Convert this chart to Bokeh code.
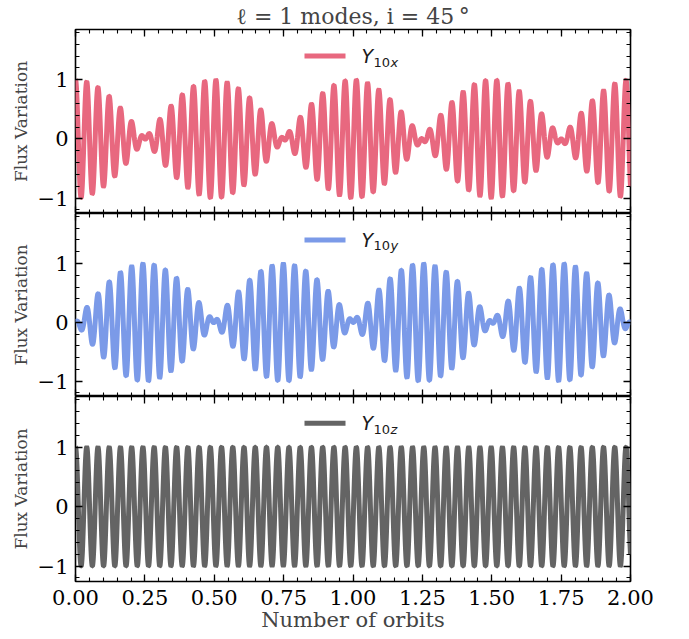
import numpy as np
from bokeh.plotting import figure
from bokeh.layouts import column
from bokeh.models import (LinearAxis, Range1d, BoxAnnotation, Label,
                          SingleIntervalTicker, CustomLabelingPolicy)
from bokeh.embed import file_html
from bokeh.resources import INLINE

# ---------------- data ----------------
ORBIT_RANGE = [0.0, 2.0]            # x extent, number of orbits
N_SAMPLES = 4001
PULSE_CYCLES_PER_ORBIT = 24.7       # fast pulsation cycles per orbit (counted)
ORBIT_CYCLES = 1.0                  # envelope: one orbital cycle per orbit
MODE_NAMES = ["x", "y", "z"]
MODE_COLORS = ["#E8687F", "#7B9AE8", "#646464"]
X_TICKS = [0.0, 0.25, 0.5, 0.75, 1.0, 1.25, 1.5, 1.75, 2.0]
X_TICK_LABELS = ["0.00", "0.25", "0.50", "0.75", "1.00", "1.25", "1.50", "1.75", "2.00"]
Y_TICKS = [-1, 0, 1]
Y_TICK_LABELS = ["\u22121", "0", "1"]
TITLE = "\u2113 = 1 modes, i = 45\u2009\u00b0"
X_LABEL = "Number of orbits"
Y_LABEL = "Flux Variation"
Y_RANGE = [-1.26, 1.85]

orbits = np.linspace(ORBIT_RANGE[0], ORBIT_RANGE[1], N_SAMPLES)
carrier = np.cos(2 * np.pi * PULSE_CYCLES_PER_ORBIT * orbits)
envelopes = {
    "x": np.cos(2 * np.pi * ORBIT_CYCLES * orbits),
    "y": np.sin(2 * np.pi * ORBIT_CYCLES * orbits),
    "z": np.ones_like(orbits),
}
flux = {m: envelopes[m] * carrier for m in MODE_NAMES}

# ---------------- layout ----------------
W = 689
LEFT, RIGHT = 75, 59
FRAME_H = [184, 183, 185]
TOP_BORDER, BOTTOM_BORDER = 29, 58
SERIF = "DejaVu Serif"
px_x = (ORBIT_RANGE[1] - ORBIT_RANGE[0]) / (W - LEFT - RIGHT)

HIDE_ALL = "for (let i = 0; i < indices.size; i++) { indices.unset(i) }\nreturn indices"


def style_axis(ax, labels):
    ax.major_tick_in = 7
    ax.major_tick_out = 0
    ax.minor_tick_in = 4
    ax.minor_tick_out = 0
    ax.major_tick_line_color = "black"
    ax.minor_tick_line_color = "black"
    ax.major_tick_line_width = 1.3
    ax.minor_tick_line_width = 1.1
    ax.axis_line_color = None
    if labels:
        ax.major_label_text_font = SERIF
        ax.major_label_text_font_size = "21px"
        ax.major_label_text_color = "black"
    else:
        ax.major_label_policy = CustomLabelingPolicy(code=HIDE_ALL)
        ax.major_label_text_font_size = "0px"
        ax.major_label_standoff = 0


panels = []
for i, mode in enumerate(MODE_NAMES):
    top = TOP_BORDER if i == 0 else 0
    bottom = BOTTOM_BORDER if i == 2 else 0
    p = figure(width=W, height=FRAME_H[i] + top + bottom,
               output_backend="svg", toolbar_location=None,
               x_range=Range1d(*ORBIT_RANGE), y_range=Range1d(*Y_RANGE),
               min_border_left=LEFT, min_border_right=RIGHT,
               min_border_top=top, min_border_bottom=bottom,
               x_axis_location=None, y_axis_location=None)
    p.grid.visible = False
    p.outline_line_color = "black"
    p.outline_line_width = 1.6
    p.background_fill_color = "white"
    p.border_fill_color = "white"

    # axes on all four sides, ticks pointing inwards
    xb = LinearAxis(ticker=SingleIntervalTicker(interval=0.25, num_minor_ticks=5))
    xt = LinearAxis(ticker=SingleIntervalTicker(interval=0.25, num_minor_ticks=5))
    yl = LinearAxis(ticker=SingleIntervalTicker(interval=1, num_minor_ticks=5))
    yr = LinearAxis(ticker=SingleIntervalTicker(interval=1, num_minor_ticks=5))
    style_axis(xb, labels=(i == 2))
    style_axis(xt, labels=False)
    style_axis(yl, labels=True)
    style_axis(yr, labels=False)
    xb.major_label_overrides = dict(zip(X_TICKS, X_TICK_LABELS))
    yl.major_label_overrides = dict(zip(Y_TICKS, Y_TICK_LABELS))
    yl.major_label_standoff = 7
    yl.axis_label = Y_LABEL
    yl.axis_label_text_font = SERIF
    yl.axis_label_text_font_style = "normal"
    yl.axis_label_text_font_size = "17px"
    yl.axis_label_standoff = 4
    if i == 2:
        xb.major_label_standoff = 8
        xb.axis_label = X_LABEL
        xb.axis_label_text_font = SERIF
        xb.axis_label_text_font_style = "normal"
        xb.axis_label_text_font_size = "21px"
        xb.axis_label_standoff = 0
    p.add_layout(xb, "below")
    p.add_layout(xt, "above")
    p.add_layout(yl, "left")
    p.add_layout(yr, "right")

    p.line(orbits, flux[mode], line_color=MODE_COLORS[i], line_width=5)

    # legend (upper centre)
    ly = 1.40
    half_t = 2.5 / (FRAME_H[i] / (Y_RANGE[1] - Y_RANGE[0]))
    p.add_layout(BoxAnnotation(left=229 * px_x, right=270 * px_x,
                               bottom=ly - half_t, top=ly + half_t,
                               fill_color=MODE_COLORS[i], fill_alpha=1.0,
                               line_color=None))
    sub_dy = 6 / (FRAME_H[i] / (Y_RANGE[1] - Y_RANGE[0]))
    p.add_layout(Label(x=286 * px_x, y=ly, text="Y", text_font="DejaVu Sans",
                       text_font_style="italic", text_font_size="19px",
                       text_baseline="middle", text_color="#1a1a1a"))
    p.add_layout(Label(x=298 * px_x, y=ly - sub_dy, text="10", text_font="DejaVu Sans",
                       text_font_size="13px", text_baseline="middle",
                       text_color="#1a1a1a"))
    p.add_layout(Label(x=315 * px_x, y=ly - sub_dy, text=mode, text_font="DejaVu Sans",
                       text_font_style="italic", text_font_size="13px",
                       text_baseline="middle", text_color="#1a1a1a"))

    if i == 0:
        p.title.text = TITLE
        p.title.align = "center"
        p.title.text_font = SERIF
        p.title.text_font_style = "normal"
        p.title.text_font_size = "22px"
        p.title.standoff = 1
    panels.append(p)

layout = column(*panels, spacing=0)
open("out.html", "w").write(file_html(layout, INLINE))
